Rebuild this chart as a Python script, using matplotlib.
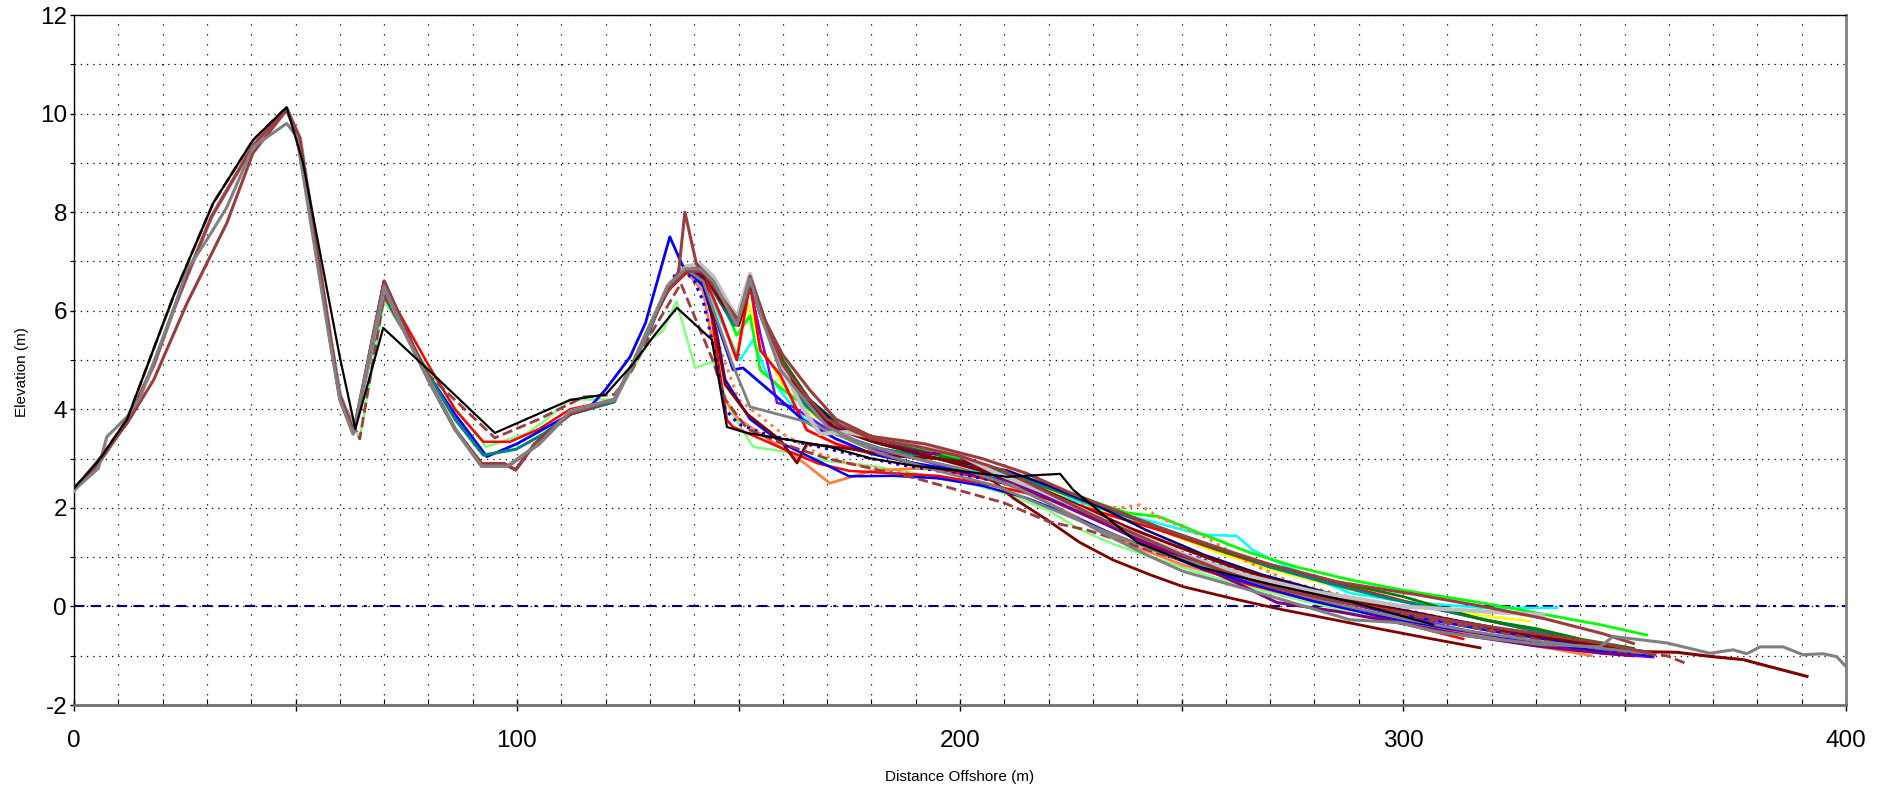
import matplotlib
matplotlib.use("Agg")
import matplotlib.pyplot as plt
from matplotlib.ticker import MultipleLocator, FuncFormatter
from matplotlib import font_manager

plt.rcParams['font.family'] = ['Liberation Sans', 'DejaVu Sans']
plt.rcParams['axes.unicode_minus'] = False

_names = {f.name for f in font_manager.fontManager.ttflist}
TICK_FAMILY = 'Liberation Sans Narrow' if 'Liberation Sans Narrow' in _names else 'Liberation Sans'
TICK_SIZE = 20 if TICK_FAMILY == 'Liberation Sans Narrow' else 17.5

# ---------------- data ----------------
X_TICKS = [0, 100, 200, 300, 400]
Y_TICKS = [-2, 0, 2, 4, 6, 8, 10, 12]

# dune front (0 .. ~64 m)
FRONT_A_X = [0, 5.5, 12, 18, 22.4, 25.5, 31, 40.4, 48, 51, 58, 60, 63.2]
FRONT_A_Y = [2.36, 2.9, 3.75, 4.9, 6.0, 6.7, 7.9, 9.35, 10.1, 9.5, 5.4, 4.3, 3.55]
FRONT_B_X = [0, 5.5, 7.4, 12, 15, 22.4, 25.5, 30, 34.5, 40.4, 48, 50.3, 57.8, 60, 63]
FRONT_B_Y = [2.36, 2.8, 3.44, 3.85, 4.25, 6.0, 6.83, 7.44, 8.1, 9.32, 9.8, 9.53, 5.35, 4.2, 3.5]
FRONT_C_X = [0, 5.5, 12, 18, 25.5, 34.5, 40.4, 48, 51, 58, 60, 63]
FRONT_C_Y = [2.36, 2.97, 3.72, 4.6, 6.15, 7.78, 9.2, 10.07, 9.4, 5.3, 4.2, 3.5]
FRONT_D_X = [0, 5.5, 12, 22.4, 31.4, 40.4, 48, 51, 58, 60, 64.5]
FRONT_D_Y = [2.4, 2.95, 3.8, 6.28, 8.18, 9.46, 10.13, 9.5, 5.4, 4.3, 3.4]

# swale section (70 .. 130 m)
MID_LOW_X = [70, 75, 80, 86, 92, 98, 105, 112, 118, 122, 126, 130]
MID_LOW_Y = [6.5, 5.5, 4.6, 3.6, 2.85, 2.85, 3.3, 3.95, 4.1, 4.2, 4.9, 5.7]
MID_RED_X = [70, 80, 86, 92.4, 98.4, 105, 112, 122, 126, 130]
MID_RED_Y = [6.5, 4.9, 4.0, 3.34, 3.34, 3.6, 4.0, 4.2, 4.9, 5.7]
MID_BLUE_X = [70, 80, 86, 93.2, 100, 106, 112, 116, 120, 125.5, 129]
MID_BLUE_Y = [6.4, 4.7, 3.9, 3.04, 3.3, 3.6, 3.9, 4.0, 4.4, 5.06, 5.75]
MID_TEAL_X = [70, 80, 86, 92.4, 99.8, 106, 112, 122, 126, 130]
MID_TEAL_Y = [6.3, 4.7, 3.8, 3.07, 3.19, 3.5, 3.9, 4.15, 4.9, 5.6]
MID_LGREEN_X = [70, 80, 87, 93, 102, 106, 112, 122, 126, 130]
MID_LGREEN_Y = [6.2, 4.8, 3.9, 3.24, 3.5, 3.75, 4.2, 4.2, 4.8, 5.4]
MID_DIP_X = [70, 80, 86, 92, 97, 99.7, 104, 112, 122, 126, 130]
MID_DIP_Y = [6.6, 4.6, 3.6, 2.9, 2.9, 2.77, 3.3, 3.9, 4.2, 4.9, 5.7]
MID_DASH_X = [70, 80, 95, 105, 115, 122, 126, 130]
MID_DASH_Y = [6.3, 4.7, 3.42, 3.8, 4.25, 4.3, 4.8, 5.5]

# black survey (complete)
BLACK_X = [0, 5.5, 12, 22.4, 31.4, 40.4, 48, 51.7, 60, 63.5, 69.8, 80, 95, 112, 120, 126, 131,
           136.1, 144, 147.4, 151.9, 160, 170, 180, 190, 200, 210.6, 222.6, 225.5, 240, 254,
           270, 288, 306.8]
BLACK_Y = [2.4, 2.95, 3.8, 6.28, 8.18, 9.46, 10.13, 9.0, 5.06, 3.6, 5.65, 4.8, 3.52, 4.19, 4.3, 4.9, 5.5,
           6.06, 5.41, 3.64, 3.52, 3.4, 3.25, 3.0, 2.85, 2.75, 2.63, 2.69, 2.37, 1.3, 0.8,
           0.45, 0.1, -0.37]

# foredune / beach sections (>= 133 m) per survey
SILVER_X = [134, 138.3, 141.3, 144.3, 149.6, 152.6, 155, 159.4, 164, 168.4, 174.4, 185, 200, 208.3, 218,
            228, 240, 252, 265, 280, 300, 318, 331.6]
SILVER_Y = [6.5, 6.9, 6.95, 6.7, 5.85, 6.75, 6.0, 4.95, 4.1, 3.5, 3.54, 3.35, 3.07, 2.7, 2.35,
            1.95, 1.45, 1.0, 0.62, 0.3, 0.0, -0.1, -0.17]
GRAY_X = [134, 138, 141.3, 144.3, 149.6, 152.6, 155, 159.4, 164, 170, 178, 190, 200, 212, 222, 232, 243,
          250.4, 265.5, 288, 299.3, 306.8, 314.4, 326.4, 331, 344.5, 347.4, 359.5, 369.3, 374.5,
          377.6, 380.6, 385.8, 390.3, 394.8, 397.9, 400]
GRAY_Y = [6.5, 6.85, 6.85, 6.6, 5.7, 6.65, 5.9, 4.8, 4.3, 3.65, 3.3, 3.0, 2.8, 2.45, 2.0, 1.5, 1.01,
          0.71, 0.33, -0.27, -0.33, -0.5, -0.6, -0.72, -0.77, -0.82, -0.61, -0.74, -0.95, -0.88,
          -0.96, -0.82, -0.82, -0.98, -0.96, -1.02, -1.22]
GRAY2_X = [134, 138, 142, 146, 148.5, 152.6, 163.9, 172, 182, 195, 208, 220, 232, 245, 258, 270, 285,
           300, 315, 330, 345, 355]
GRAY2_Y = [6.5, 6.85, 6.6, 5.6, 4.95, 4.05, 3.78, 3.5, 3.1, 2.75, 2.45, 2.0, 1.55, 1.1, 0.75, 0.4, 0.05,
           -0.25, -0.5, -0.7, -0.85, -0.95]
BROWN_X = [134, 136.5, 137.9, 140.5, 144.3, 149.6, 152.6, 155, 160, 165, 170, 180, 190, 200, 210, 220,
           230, 240, 250, 260, 272, 285, 300, 315, 330, 345, 356]
BROWN_Y = [6.4, 6.8, 8.0, 6.95, 6.6, 5.7, 6.7, 6.0, 4.9, 4.3, 3.8, 3.4, 3.25, 3.05, 2.75, 2.3,
           1.85, 1.45, 1.05, 0.7, 0.35, 0.1, -0.12, -0.35, -0.55, -0.75, -0.95]
BROWN2_X = [134, 138, 142, 146, 150, 153, 156, 160, 166, 172, 180, 192, 205, 215, 225, 235, 245, 258,
            270, 285, 303, 318, 332, 345, 352]
BROWN2_Y = [6.4, 6.8, 6.8, 6.3, 5.8, 6.6, 5.8, 5.1, 4.4, 3.8, 3.45, 3.3, 3.0, 2.7, 2.3, 1.95, 1.6, 1.2,
            0.85, 0.5, 0.24, 0.0, -0.25, -0.55, -0.75]
BROWN_DASH_X = [134, 137, 140, 144.3, 147, 152, 160, 170, 180, 190, 200, 210, 220, 228.7, 245, 260,
                275, 290, 305, 320, 335, 350, 359.5, 364]
BROWN_DASH_Y = [6.1, 6.55, 5.9, 4.97, 4.2, 3.6, 3.3, 3.0, 2.8, 2.6, 2.35, 2.1, 1.72, 1.55, 1.07, 0.7,
                0.35, 0.05, -0.25, -0.5, -0.75, -0.92, -1.0, -1.16]
MAROON_X = [134, 138, 142, 144, 147, 152, 159.4, 163.2, 165.4, 175, 185, 195, 203, 212, 219.6, 227,
            234.6, 243, 250.4, 262, 273, 285, 295.5, 306, 317.4]
MAROON_Y = [6.4, 6.8, 6.7, 6.0, 4.5, 3.9, 3.38, 2.91, 3.3, 3.2, 3.05, 3.0, 2.9, 2.2, 1.76, 1.3,
            0.94, 0.64, 0.4, 0.15, -0.07, -0.28, -0.47, -0.65, -0.84]
MAROON2_X = [134, 138, 142, 146, 150, 153, 156, 160, 165, 172, 182, 195, 207, 218, 228, 238, 248, 260,
             272, 285, 300, 315, 330, 345, 355, 361.7, 370, 376.8, 391.2]
MAROON2_Y = [6.4, 6.8, 6.8, 6.2, 5.7, 6.6, 5.8, 4.9, 4.2, 3.6, 3.3, 3.0, 2.7, 2.4, 2.0, 1.6, 1.25, 0.85,
             0.5, 0.2, -0.1, -0.35, -0.6, -0.8, -0.92, -0.93, -1.02, -1.08, -1.42]
BLUE_X = [134.5, 136.8, 138, 141, 145, 148.8, 151, 158.7, 164.6, 172, 180, 190, 200, 210, 220, 230,
          240, 252, 265, 278, 290, 305, 320, 335, 348, 356]
BLUE_Y = [7.5, 7.03, 6.8, 6.8, 5.8, 4.8, 4.84, 4.25, 3.78, 3.4, 3.1, 2.9, 2.75, 2.55, 2.25, 1.85,
          1.4, 0.95, 0.6, 0.3, 0.05, -0.25, -0.5, -0.7, -0.9, -1.0]
BLUE2_X = [134, 138, 142, 145, 147, 152.6, 160, 168, 175, 185, 195, 205, 215, 225, 235, 245, 255, 268,
           280, 295, 310, 325, 340, 352]
BLUE2_Y = [6.5, 6.85, 6.5, 5.6, 4.6, 3.8, 3.3, 2.95, 2.64, 2.65, 2.6, 2.45, 2.2, 1.85, 1.45, 1.1, 0.75,
           0.4, 0.1, -0.2, -0.45, -0.65, -0.85, -1.0]
BLUE_DOT_X = [134, 137, 140, 142, 145, 147, 150, 156, 165, 175, 185, 195, 205, 215, 225, 235, 245, 258,
              270, 285, 300, 315, 330, 345, 355]
BLUE_DOT_Y = [6.5, 6.9, 6.6, 6.2, 5.0, 4.0, 3.7, 3.5, 3.3, 3.1, 2.9, 2.75, 2.6, 2.4, 2.05, 1.65, 1.25,
              0.85, 0.5, 0.2, -0.1, -0.35, -0.6, -0.8, -0.95]
RED_X = [134, 139, 142.9, 147.4, 148.8, 155, 160, 168, 175, 185, 195, 205, 215, 225, 235, 245, 255,
         265, 278, 290, 300, 313.6]
RED_Y = [6.4, 6.83, 6.48, 3.78, 3.64, 3.4, 3.2, 2.9, 2.75, 2.7, 2.65, 2.5, 2.3, 2.05, 1.6, 1.15, 0.75,
         0.45, 0.15, -0.1, -0.35, -0.66]
RED2_X = [134, 138, 142, 146, 149.6, 152.6, 154.9, 159.4, 165.4, 172, 180, 190, 200, 210, 220, 232,
          245, 258, 270, 280, 292, 305, 320, 335, 350]
RED2_Y = [6.5, 6.85, 6.75, 5.9, 5.0, 6.57, 5.2, 4.7, 3.58, 3.3, 3.1, 2.9, 2.7, 2.5, 2.25, 1.9,
          1.55, 1.15, 0.8, 0.6, 0.3, 0.0, -0.3, -0.6, -0.85]
LIME_X = [134, 138, 141, 144.3, 149.6, 152.6, 154.9, 160, 166, 172, 180, 190, 200, 210, 222, 231, 237.7,
          245, 254, 265.5, 276, 288, 300, 318, 330, 344.5, 355]
LIME_Y = [6.5, 6.9, 6.9, 6.6, 5.5, 5.9, 4.8, 4.4, 4.0, 3.7, 3.45, 3.2, 3.0, 2.75, 2.4, 2.1, 1.9,
          1.82, 1.49, 1.09, 0.8, 0.54, 0.33, 0.07, -0.13, -0.37, -0.58]
LGREEN_X = [133, 136, 140.2, 144.3, 148, 153.3, 162.3, 170, 180, 190, 200, 210, 220, 227, 235, 245,
            255, 265, 278, 290, 305, 320, 335, 345]
LGREEN_Y = [5.6, 6.19, 4.84, 4.97, 4.0, 3.24, 3.11, 2.95, 2.85, 2.7, 2.55, 2.3, 1.95, 1.56, 1.25, 0.95,
            0.65, 0.4, 0.1, -0.15, -0.4, -0.62, -0.82, -0.95]
CYAN_X = [134, 138, 142, 146, 150.3, 153.3, 156, 160, 165, 175, 190, 205, 220, 235, 243, 254.2, 262.5,
          266, 271.5, 288, 300, 318, 334.8]
CYAN_Y = [6.5, 6.85, 6.7, 5.8, 5.0, 5.41, 4.8, 4.3, 3.8, 3.4, 3.0, 2.7, 2.3, 1.9, 1.73, 1.46, 1.43,
          1.15, 0.9, 0.27, 0.1, -0.03, -0.03]
YELLOW_X = [134, 138, 142, 145, 149.6, 152.2, 155, 160, 165, 170, 180, 190, 200, 210, 220, 232, 245,
            258, 270, 285, 300, 315, 328.6]
YELLOW_Y = [6.5, 6.85, 6.6, 6.0, 5.14, 6.16, 5.3, 4.5, 4.0, 3.7, 3.35, 3.1, 2.9, 2.65, 2.35, 1.95, 1.55,
            1.1, 0.75, 0.4, 0.1, -0.15, -0.3]
ORANGE_X = [134, 138, 142, 146.5, 150, 160, 165, 170.6, 180, 190, 200, 210, 220, 230, 240, 250, 262,
            275, 288, 300, 315, 330, 342.5]
ORANGE_Y = [6.4, 6.8, 6.4, 4.25, 3.8, 3.2, 2.9, 2.5, 2.75, 2.8, 2.75, 2.5, 2.1, 1.65, 1.2, 0.85, 0.55,
            0.25, -0.05, -0.3, -0.55, -0.8, -1.0]
ORANGE_DOT_X = [134, 138, 142, 146, 150, 160, 168, 175, 185, 195, 205, 215, 225, 236, 240.6, 245, 255.7,
                265, 275, 290, 305, 320, 335, 350]
ORANGE_DOT_Y = [6.4, 6.8, 6.5, 5.2, 4.2, 3.5, 3.1, 2.9, 2.75, 2.6, 2.5, 2.3, 2.1, 2.0, 2.06, 1.8, 1.39,
                0.9, 0.48, 0.15, -0.15, -0.45, -0.7, -0.9]
VIOLET_X = [134, 138, 142, 146, 150, 152.6, 155, 158.7, 162.3, 170, 180, 190, 200, 210, 220, 230, 240,
            250, 262, 275, 288, 300, 315, 330, 345, 356.5]
VIOLET_Y = [6.5, 6.85, 6.7, 6.2, 5.8, 6.5, 5.5, 4.13, 4.05, 3.6, 3.2, 3.0, 2.75, 2.5, 2.2, 1.8, 1.35,
            0.95, 0.6, 0.3, 0.05, -0.2, -0.5, -0.75, -0.95, -1.03]
PURPLE_X = [134, 138.3, 141.3, 144.3, 149.6, 152.6, 155, 159.4, 164, 170, 180, 190, 193.2, 198.5, 203,
            212, 222, 232, 242, 252, 262, 271.5, 285, 300, 315, 330, 345, 352]
PURPLE_Y = [6.5, 6.9, 6.9, 6.6, 5.8, 6.7, 6.0, 4.9, 4.3, 3.7, 3.35, 3.15, 3.1, 3.14, 2.85,
            2.5, 2.1, 1.7, 1.3, 0.9, 0.5, 0.08, -0.1, -0.35, -0.6, -0.8, -0.95, -1.0]
TEAL_X = [134, 138, 142, 145, 149, 152.6, 155, 160, 165, 172, 182, 195, 208, 220, 232, 245, 258, 270,
          282, 295, 310, 325, 340, 352]
TEAL_Y = [6.5, 6.9, 6.8, 6.3, 5.7, 6.6, 5.9, 4.8, 4.1, 3.5, 3.2, 3.0, 2.75, 2.4, 2.0, 1.6, 1.2, 0.8,
          0.5, 0.2, -0.1, -0.4, -0.7, -0.9]
DKGREEN_X = [134, 138, 142, 145, 149.6, 152.6, 155, 160, 166, 174, 185, 198, 210, 222, 235, 248, 260,
             272, 285, 300, 318, 330, 340.5, 352]
DKGREEN_Y = [6.5, 6.85, 6.8, 6.5, 5.9, 6.6, 6.0, 5.0, 4.2, 3.6, 3.3, 3.0, 2.75, 2.4, 1.95, 1.5, 1.1,
             0.8, 0.5, 0.2, -0.27, -0.45, -0.67, -0.85]
NAVY_X = [134, 138, 142, 145, 149.6, 152.6, 155, 160, 166, 172, 182, 195, 205, 210.6, 220, 231.6, 242,
          255, 268, 282, 296, 310, 325, 340, 352]
NAVY_Y = [6.5, 6.9, 6.8, 6.4, 5.8, 6.6, 5.9, 4.9, 4.2, 3.7, 3.3, 3.0, 2.85, 2.76, 2.45, 2.02, 1.55,
          1.05, 0.65, 0.3, 0.0, -0.25, -0.5, -0.75, -0.9]

# (front, swale, beach, colour, linestyle, linewidth) -- drawing order
SERIES = [
    ((FRONT_D_X, FRONT_D_Y), (MID_LGREEN_X, MID_LGREEN_Y), (LGREEN_X, LGREEN_Y), '#80FF80', '-', 1.8),
    ((FRONT_A_X, FRONT_A_Y), (MID_LOW_X, MID_LOW_Y), (YELLOW_X, YELLOW_Y), '#FFFF00', '-', 1.8),
    ((FRONT_A_X, FRONT_A_Y), (MID_LOW_X, MID_LOW_Y), (CYAN_X, CYAN_Y), '#00FFFF', '-', 1.8),
    ((FRONT_A_X, FRONT_A_Y), (MID_LOW_X, MID_LOW_Y), (LIME_X, LIME_Y), '#00FF00', '-', 2.0),
    ((FRONT_A_X, FRONT_A_Y), (MID_LOW_X, MID_LOW_Y), (ORANGE_X, ORANGE_Y), '#FF8040', '-', 2.0),
    ((FRONT_A_X, FRONT_A_Y), (MID_LOW_X, MID_LOW_Y), (ORANGE_DOT_X, ORANGE_DOT_Y), '#FF8040', ':', 2.2),
    ((FRONT_A_X, FRONT_A_Y), (MID_LOW_X, MID_LOW_Y), (VIOLET_X, VIOLET_Y), '#8000FF', '-', 1.8),
    ((FRONT_A_X, FRONT_A_Y), (MID_RED_X, MID_RED_Y), (RED_X, RED_Y), '#FF0000', '-', 1.8),
    ((FRONT_A_X, FRONT_A_Y), (MID_LOW_X, MID_LOW_Y), (RED2_X, RED2_Y), '#FF0000', '-', 2.0),
    ((FRONT_A_X, FRONT_A_Y), (MID_BLUE_X, MID_BLUE_Y), (BLUE_X, BLUE_Y), '#0000FF', '-', 2.0),
    ((FRONT_A_X, FRONT_A_Y), (MID_LOW_X, MID_LOW_Y), (BLUE2_X, BLUE2_Y), '#0000FF', '-', 1.8),
    ((FRONT_A_X, FRONT_A_Y), (MID_LOW_X, MID_LOW_Y), (BLUE_DOT_X, BLUE_DOT_Y), '#0000FF', ':', 2.2),
    ((FRONT_A_X, FRONT_A_Y), (MID_TEAL_X, MID_TEAL_Y), (TEAL_X, TEAL_Y), '#008080', '-', 2.2),
    ((FRONT_A_X, FRONT_A_Y), (MID_LOW_X, MID_LOW_Y), (DKGREEN_X, DKGREEN_Y), '#008000', '-', 2.0),
    ((FRONT_A_X, FRONT_A_Y), (MID_LOW_X, MID_LOW_Y), (NAVY_X, NAVY_Y), '#000080', '-', 1.8),
    ((FRONT_A_X, FRONT_A_Y), (MID_DIP_X, MID_DIP_Y), (PURPLE_X, PURPLE_Y), '#800080', '-', 2.2),
    ((FRONT_A_X, FRONT_A_Y), (MID_DIP_X, MID_DIP_Y), (MAROON_X, MAROON_Y), '#800000', '-', 2.0),
    ((FRONT_A_X, FRONT_A_Y), (MID_LOW_X, MID_LOW_Y), (MAROON2_X, MAROON2_Y), '#800000', '-', 2.2),
    ((FRONT_D_X, FRONT_D_Y), (MID_DASH_X, MID_DASH_Y), (BROWN_DASH_X, BROWN_DASH_Y), '#9C3C3C', '--', 2.0),
    ((FRONT_A_X, FRONT_A_Y), (MID_LOW_X, MID_LOW_Y), (GRAY2_X, GRAY2_Y), '#808080', '-', 2.0),
    ((FRONT_A_X, FRONT_A_Y), (MID_LOW_X, MID_LOW_Y), (SILVER_X, SILVER_Y), '#C0C0C0', '-', 3.0),
    ((FRONT_C_X, FRONT_C_Y), (MID_DIP_X, MID_DIP_Y), (BROWN_X, BROWN_Y), '#9C3C3C', '-', 2.2),
    ((FRONT_A_X, FRONT_A_Y), (MID_LOW_X, MID_LOW_Y), (BROWN2_X, BROWN2_Y), '#9C3C3C', '-', 2.2),
    ((FRONT_B_X, FRONT_B_Y), (MID_LOW_X, MID_LOW_Y), (GRAY_X, GRAY_Y), '#808080', '-', 2.2),
]

# ---------------- figure ----------------
W, H = 1888, 789
fig = plt.figure(figsize=(W / 100, H / 100), dpi=100)
ax = fig.add_axes([74 / W, 1 - 705 / H, 1772 / W, 690 / H])

ax.set_xlim(0, 400)
ax.set_ylim(-2, 12)

ax.xaxis.set_major_locator(MultipleLocator(50))
ax.xaxis.set_minor_locator(MultipleLocator(10))
ax.xaxis.set_major_formatter(FuncFormatter(lambda v, p: f"{int(round(v))}" if round(v) in X_TICKS else ""))
ax.set_yticks(Y_TICKS)
ax.yaxis.set_minor_locator(MultipleLocator(1))

# dotted grid
ax.xaxis.grid(True, which='both', color='black', linestyle=(0, (1, 7)), linewidth=0.9)
ax.yaxis.grid(True, which='both', color='black', linestyle=(0, (1, 4)), linewidth=0.9)
ax.set_axisbelow(True)

for front, mid, beach, color, ls, lw in SERIES:
    xs = front[0] + mid[0] + beach[0]
    ys = front[1] + mid[1] + beach[1]
    ax.plot(xs, ys, color=color, linestyle=ls, linewidth=lw, solid_joinstyle='round', zorder=3)

ax.plot(BLACK_X, BLACK_Y, color='black', linewidth=1.6, zorder=3)

# mean sea level
ax.axhline(0, color='#000080', linestyle=(0, (5, 3, 5, 3, 1.5, 3)), linewidth=1.5, zorder=2.5)

# spines
ax.spines['top'].set_color('black')
ax.spines['left'].set_color('black')
ax.spines['top'].set_linewidth(1.0)
ax.spines['left'].set_linewidth(1.0)
ax.spines['bottom'].set_color('#707070')
ax.spines['right'].set_color('#808080')
ax.spines['bottom'].set_linewidth(2.0)
ax.spines['right'].set_linewidth(2.0)

ax.tick_params(axis='x', which='major', direction='inout', length=8, width=1, labelsize=TICK_SIZE, pad=14)
ax.tick_params(axis='x', which='minor', direction='in', length=4, width=0.8)
ax.tick_params(axis='y', which='major', direction='out', length=3, width=1, labelsize=TICK_SIZE, pad=2)
ax.tick_params(axis='y', which='minor', direction='out', length=3, width=0.8)
for lab in ax.get_xticklabels() + ax.get_yticklabels():
    lab.set_family([TICK_FAMILY, 'DejaVu Sans'])

ax.set_xlabel('Distance Offshore (m)', fontsize=11)
ax.set_ylabel('Elevation (m)', fontsize=11)
ax.yaxis.label.set_verticalalignment('center')
ax.xaxis.set_label_coords(0.5, -0.094)
ax.yaxis.set_label_coords(-0.0293, 0.482)

fig.savefig('out.png', dpi=100)
